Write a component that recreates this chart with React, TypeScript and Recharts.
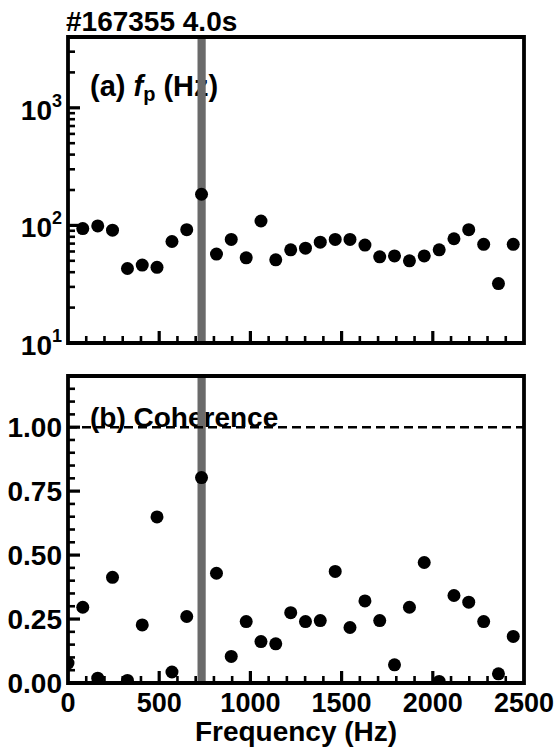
import { ReferenceArea, ReferenceLine, Scatter, ScatterChart, XAxis, YAxis } from 'recharts';

// frequency bins (Hz)
const freqs = [81, 163, 244, 326, 407, 488, 570, 651, 732, 814, 895, 977, 1058, 1139, 1221, 1302, 1383, 1465, 1546, 1628, 1709, 1790, 1872, 1953, 2035, 2116, 2197, 2279, 2360, 2441];
// (a) fp (Hz)
const fpValues = [94, 99, 91, 43, 46, 44, 73, 92, 184, 57, 76, 53, 109, 51, 62, 64, 72, 76, 76, 68, 54, 55, 50, 55, 62, 77, 92, 69, 32, 69];
// (b) coherence, includes the 0 Hz bin
const cohFreqs = [0, 81, 163, 244, 326, 407, 488, 570, 651, 732, 814, 895, 977, 1058, 1139, 1221, 1302, 1383, 1465, 1546, 1628, 1709, 1790, 1872, 1953, 2035, 2116, 2197, 2279, 2360, 2441];
const cohValues = [0.078, 0.296, 0.019, 0.413, 0.010, 0.227, 0.649, 0.043, 0.260, 0.803, 0.429, 0.104, 0.240, 0.162, 0.153, 0.275, 0.240, 0.244, 0.436, 0.217, 0.321, 0.244, 0.071, 0.296, 0.471, 0.006, 0.342, 0.316, 0.240, 0.036, 0.182];

const bandRange = [710, 755];

const xTicks = [0, 100, 200, 300, 400, 500, 600, 700, 800, 900, 1000, 1100, 1200, 1300, 1400, 1500, 1600, 1700, 1800, 1900, 2000, 2100, 2200, 2300, 2400, 2500];
const logTicks = [10, 20, 30, 40, 50, 60, 70, 80, 90, 100, 200, 300, 400, 500, 600, 700, 800, 900, 1000, 2000, 3000, 4000];
const cohTicks = [0, 0.05, 0.1, 0.15, 0.2, 0.25, 0.3, 0.35, 0.4, 0.45, 0.5, 0.55, 0.6, 0.65, 0.7, 0.75, 0.8, 0.85, 0.9, 0.95, 1, 1.05, 1.1, 1.15, 1.2];
const logLabels: Record<number, string> = { 10: '1', 100: '2', 1000: '3' };

const fpData = freqs.map((f, i) => ({ f, v: fpValues[i] }));
const cohData = cohFreqs.map((f, i) => ({ f, v: cohValues[i] }));

const FONT = '"Liberation Sans", Arial, Helvetica, sans-serif';
const W = 556;
const MAJ = 12;
const MIN = 7;
// plot box: left 68, right 524
const PL = 68;
const PR = 524;

const dotIn = (clipId: string) => (p: any) => <circle cx={p.cx} cy={p.cy} r={6.5} fill="#000" clipPath={`url(#${clipId})`} />;

function xTick(side: 'bottom' | 'top', labels: boolean) {
  return (props: any) => {
    const { x, y, payload } = props;
    const v = payload.value;
    const major = v % 500 === 0;
    const dir = side === 'bottom' ? -1 : 1;
    return (
      <g>
        {v > 0 && v < 2500 && (
          <line x1={x} x2={x} y1={y} y2={y + dir * (major ? MAJ : MIN)} stroke="#000" strokeWidth={major ? 3.2 : 2.6} />
        )}
        {labels && major && (
          <text x={x} y={y + 29} textAnchor="middle" fontFamily={FONT} fontWeight="bold" fontSize={27} fill="#000">
            {v}
          </text>
        )}
      </g>
    );
  };
}

function yTick(side: 'left' | 'right', kind: 'log' | 'lin', labels: boolean, lo: number, hi: number) {
  return (props: any) => {
    const { x, y, payload } = props;
    const v = payload.value;
    const major = kind === 'log' ? logLabels[v] !== undefined : Math.abs(v * 4 - Math.round(v * 4)) < 1e-6 && v <= 1;
    const dir = side === 'left' ? 1 : -1;
    return (
      <g>
        {v > lo && v < hi && (
          <line x1={x} x2={x + dir * (major ? MAJ : MIN)} y1={y} y2={y} stroke="#000" strokeWidth={major ? 3.2 : 2.6} />
        )}
        {labels && major && kind === 'lin' && (
          <text x={x - 6} y={y + 10} textAnchor="end" fontFamily={FONT} fontWeight="bold" fontSize={28} fill="#000">
            {v.toFixed(2)}
          </text>
        )}
        {labels && major && kind === 'log' && (
          <text x={x - 6} y={y + 12} textAnchor="end" fontFamily={FONT} fontWeight="bold" fontSize={28} fill="#000">
            10<tspan dy={-13} fontSize={18}>{logLabels[v]}</tspan>
          </text>
        )}
      </g>
    );
  };
}

// axes are 1px thick so that Recharts still renders them; ticks are drawn inward by hand
const axisCommon = { tickLine: false, axisLine: false, tickSize: 0, tickMargin: 0, interval: 0 as const };

export default function App() {
  return (
    <div style={{ position: 'absolute', left: 0, top: 0, width: W, height: 748, background: '#fff' }}>
      <div style={{ position: 'absolute', left: 0, top: 0 }}>
        <ScatterChart width={W} height={360} margin={{ top: 36, right: W - PR - 1, bottom: 16, left: PL - 1 }}>
          <defs>
            <clipPath id="clipA">
              <rect x={PL} y={37} width={PR - PL} height={306} />
            </clipPath>
          </defs>
          <XAxis type="number" dataKey="f" domain={[0, 2500]} ticks={xTicks} height={1} allowDataOverflow tick={xTick('bottom', false)} {...axisCommon} />
          <XAxis xAxisId="top" orientation="top" type="number" domain={[0, 2500]} ticks={xTicks} height={1} tick={xTick('top', false)} {...axisCommon} />
          <YAxis type="number" dataKey="v" scale="log" domain={[10, 4000]} ticks={logTicks} width={1} allowDataOverflow tick={yTick('left', 'log', true, 10, 4000)} {...axisCommon} />
          <YAxis yAxisId="right" orientation="right" type="number" scale="log" domain={[10, 4000]} ticks={logTicks} width={1} tick={yTick('right', 'log', false, 10, 4000)} {...axisCommon} />
          <ReferenceArea x1={bandRange[0]} x2={bandRange[1]} y1={10} y2={4000} fill="#6a6a6a" fillOpacity={1} stroke="none" />
          <Scatter data={fpData} shape={dotIn('clipA')} isAnimationActive={false} />
          <ReferenceArea x1={0} x2={2500} y1={10} y2={4000} fill="none" stroke="#000" strokeWidth={3.8} zIndex={900} />
          <text x={66} y={31} fontFamily={FONT} fontWeight="bold" fontSize={28} fill="#000">#167355 4.0s</text>
          <text x={90} y={96} fontFamily={FONT} fontWeight="bold" fontSize={29} fill="#000">
            (a) <tspan fontStyle="italic">f</tspan><tspan fontSize={20} dy={5}>p</tspan><tspan dy={-5}> (Hz)</tspan>
          </text>
        </ScatterChart>
      </div>
      <div style={{ position: 'absolute', left: 0, top: 360 }}>
        <ScatterChart width={W} height={388} margin={{ top: 15, right: W - PR - 1, bottom: 64, left: PL - 1 }}>
          <defs>
            <clipPath id="clipB">
              <rect x={PL} y={16} width={PR - PL} height={307} />
            </clipPath>
          </defs>
          <XAxis type="number" dataKey="f" domain={[0, 2500]} ticks={xTicks} height={1} allowDataOverflow tick={xTick('bottom', true)} {...axisCommon} />
          <XAxis xAxisId="top" orientation="top" type="number" domain={[0, 2500]} ticks={xTicks} height={1} tick={xTick('top', false)} {...axisCommon} />
          <YAxis type="number" dataKey="v" domain={[0, 1.2]} ticks={cohTicks} width={1} allowDataOverflow tick={yTick('left', 'lin', true, 0, 1.2)} {...axisCommon} />
          <YAxis yAxisId="right" orientation="right" type="number" domain={[0, 1.2]} ticks={cohTicks} width={1} tick={yTick('right', 'lin', false, 0, 1.2)} {...axisCommon} />
          <ReferenceArea x1={bandRange[0]} x2={bandRange[1]} y1={0} y2={1.2} fill="#6a6a6a" fillOpacity={1} stroke="none" />
          <ReferenceLine y={1} stroke="#000" strokeWidth={2.5} strokeDasharray="9 5" />
          <Scatter data={cohData} shape={dotIn('clipB')} isAnimationActive={false} />
          <ReferenceArea x1={0} x2={2500} y1={0} y2={1.2} fill="none" stroke="#000" strokeWidth={3.8} zIndex={900} />
          <text x={90} y={67} fontFamily={FONT} fontWeight="bold" fontSize={28} fill="#000">(b) Coherence</text>
          <text x={296} y={381} textAnchor="middle" fontFamily={FONT} fontWeight="bold" fontSize={28} fill="#000">Frequency (Hz)</text>
        </ScatterChart>
      </div>
    </div>
  );
}
